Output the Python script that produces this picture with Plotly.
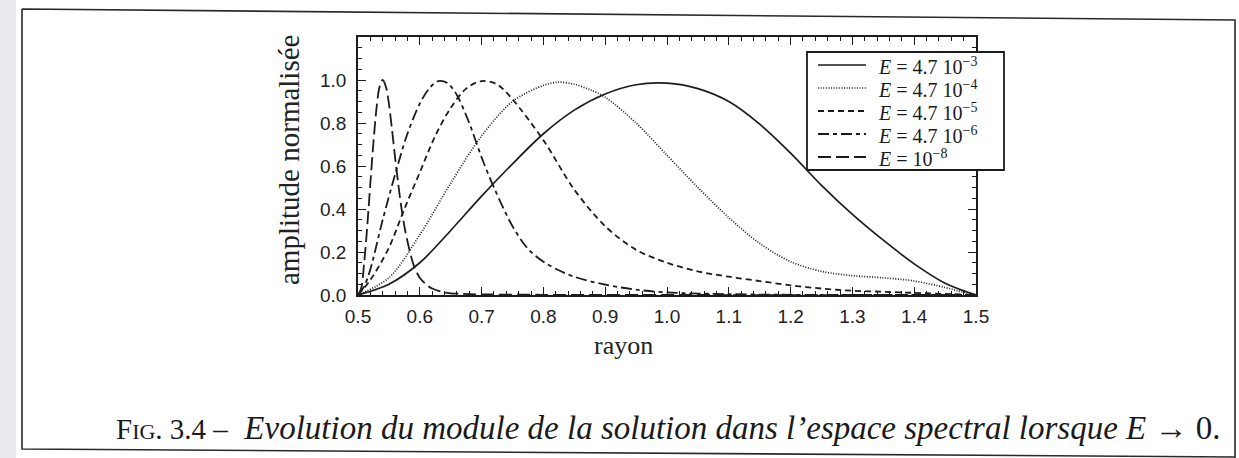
import plotly.graph_objects as go

# --- data: normalised amplitude versus radius for decreasing Ekman numbers ---
labels = [
    "<i>E</i> = 4.7 10<sup>−3</sup>",
    "<i>E</i> = 4.7 10<sup>−4</sup>",
    "<i>E</i> = 4.7 10<sup>−5</sup>",
    "<i>E</i> = 4.7 10<sup>−6</sup>",
    "<i>E</i> = 10<sup>−8</sup>",
]

r_e3 = [0.5, 0.55, 0.6, 0.65, 0.7, 0.75, 0.8, 0.85, 0.9, 0.95, 1.0, 1.05, 1.1,
        1.15, 1.2, 1.25, 1.3, 1.35, 1.4, 1.45, 1.5]
a_e3 = [0, 0.05, 0.15, 0.30, 0.46, 0.61, 0.75, 0.86, 0.935, 0.978, 0.985, 0.96, 0.90,
        0.795, 0.66, 0.51, 0.375, 0.255, 0.145, 0.055, 0]

r_e4 = [0.5, 0.55, 0.6, 0.65, 0.7, 0.75, 0.8, 0.825, 0.85, 0.875, 0.9, 0.95, 1.0,
        1.05, 1.1, 1.15, 1.2, 1.25, 1.3, 1.35, 1.4, 1.45, 1.47, 1.5]
a_e4 = [0, 0.08, 0.28, 0.52, 0.74, 0.90, 0.975, 0.99, 0.98, 0.955, 0.92, 0.80, 0.65,
        0.50, 0.36, 0.24, 0.155, 0.11, 0.09, 0.08, 0.065, 0.035, 0.02, 0]

r_e5 = [0.5, 0.52, 0.55, 0.575, 0.6, 0.625, 0.65, 0.675, 0.7, 0.725, 0.75, 0.8, 0.85,
        0.9, 0.95, 1.0, 1.05, 1.1, 1.15, 1.2, 1.25, 1.3, 1.35, 1.4, 1.45, 1.5]
a_e5 = [0, 0.07, 0.22, 0.40, 0.57, 0.74, 0.87, 0.96, 0.995, 0.98, 0.91, 0.72, 0.49,
        0.32, 0.21, 0.15, 0.11, 0.085, 0.065, 0.045, 0.03, 0.02, 0.015, 0.01, 0.005, 0]

r_e6 = [0.5, 0.51, 0.52, 0.54, 0.56, 0.58, 0.6, 0.615, 0.63, 0.645, 0.66, 0.68, 0.7,
        0.72, 0.75, 0.775, 0.8, 0.825, 0.85, 0.9, 0.95, 1.0, 1.1, 1.2, 1.3, 1.5]
a_e6 = [0, 0.04, 0.12, 0.35, 0.56, 0.75, 0.89, 0.96, 0.995, 0.985, 0.93, 0.80, 0.64,
        0.50, 0.32, 0.215, 0.155, 0.115, 0.085, 0.048, 0.025, 0.012, 0.004, 0.001, 0, 0]

r_e8 = [0.5, 0.505, 0.51, 0.515, 0.52, 0.525, 0.53, 0.535, 0.54, 0.545, 0.55, 0.555,
        0.56, 0.565, 0.57, 0.575, 0.58, 0.59, 0.6, 0.61, 0.62, 0.64, 0.67, 0.7, 0.8,
        1.0, 1.5]
a_e8 = [0, 0.03, 0.15, 0.32, 0.52, 0.71, 0.87, 0.97, 1.0, 0.97, 0.89, 0.77, 0.64, 0.52,
        0.41, 0.32, 0.25, 0.14, 0.08, 0.05, 0.03, 0.012, 0.005, 0.003, 0.001, 0, 0]

x_ticks = [0.5, 0.6, 0.7, 0.8, 0.9, 1.0, 1.1, 1.2, 1.3, 1.4, 1.5]
y_ticks = [0.0, 0.2, 0.4, 0.6, 0.8, 1.0]

series = [
    (r_e3, a_e3, "solid", 1.7),
    (r_e4, a_e4, "1px,1.6px", 1.7),
    (r_e5, a_e5, "6px,4px", 1.8),
    (r_e6, a_e6, "11px,4px,4px,4px", 1.8),
    (r_e8, a_e8, "13px,5px", 1.8),
]

INK = "#1c1c1c"
W, H = 1239, 458
L, R, T, B = 358, 976, 37, 295   # plot area in pixels


def px(x):
    return (x - L) / (R - L)


def py(y):
    return (B - y) / (B - T)


fig = go.Figure()
for (r, a, dash, w), name in zip(series, labels):
    fig.add_trace(go.Scatter(
        x=r, y=a, mode="lines", name=name, showlegend=False,
        line=dict(color=INK, width=w, dash=dash, shape="spline", smoothing=0.9),
    ))

axis_common = dict(
    showline=True, linecolor=INK, linewidth=1.8, mirror="allticks",
    ticks="inside", ticklen=8, tickwidth=1.3, tickcolor=INK,
    showgrid=False, zeroline=False,
    tickfont=dict(family="Liberation Sans, Arial", size=19, color="#222"),
)

fig.update_xaxes(range=[0.5, 1.5], tickvals=x_ticks,
                 ticktext=[f"{v:.1f}" for v in x_ticks], ticklabelstandoff=3,
                 minor=dict(ticks="inside", ticklen=4, tick0=0.5, dtick=0.02,
                            tickcolor=INK, tickwidth=1),
                 **axis_common)
fig.update_yaxes(range=[0, 1.2], tickvals=y_ticks,
                 ticktext=[f"{v:.1f}" for v in y_ticks], ticklabelstandoff=6,
                 minor=dict(ticks="inside", ticklen=4, tick0=0, dtick=0.05,
                            tickcolor=INK, tickwidth=1),
                 **axis_common)

serif = "Liberation Serif, Times New Roman, serif"

fig.add_annotation(x=px(623), y=py(345), xref="paper", yref="paper",
                   xanchor="center", yanchor="middle",
                   text="rayon", showarrow=False,
                   font=dict(family=serif, size=26, color="#222"))
fig.add_annotation(x=px(289), y=py(160), xref="paper", yref="paper",
                   xanchor="center", yanchor="middle",
                   text="amplitude normalisée", textangle=-90, showarrow=False,
                   font=dict(family=serif, size=29, color="#222"))

fig.add_annotation(
    x=px(114), y=py(428), xref="paper", yref="paper", xanchor="left", yanchor="middle",
    text=("<span style='font-size:29px'>F<span style='font-size:22px'>IG</span>. 3.4 –</span>  "
          "<i>Evolution du module de la solution dans l’espace spectral lorsque "
          "E</i> → 0."),
    showarrow=False, font=dict(family=serif, size=33, color="#1a1a1a"),
)

# legend box with one sample line and label per curve
LX0, LX1, LY0, LY1 = 807, 1004, 52, 170
fig.add_shape(type="rect", x0=px(LX0), x1=px(LX1), y0=py(LY0), y1=py(LY1),
              xref="paper", yref="paper", fillcolor="white",
              line=dict(color=INK, width=1.8), layer="above")
row_y = [65, 88, 111, 134, 157]
for (r, a, dash, w), name, yy in zip(series, labels, row_y):
    fig.add_shape(type="line", x0=px(818), x1=px(866), y0=py(yy), y1=py(yy),
                  xref="paper", yref="paper", layer="above",
                  line=dict(color=INK, width=w, dash=dash))
    fig.add_annotation(x=px(877), y=py(yy + 1), xref="paper", yref="paper",
                       xanchor="left", yanchor="middle", text=name, showarrow=False,
                       font=dict(family=serif, size=20, color="#1a1a1a"),
                       borderpad=0)

# page frame around figure and caption
frame = (f"M {px(22)},{py(9)} L {px(1235)},{py(20)} "
         f"L {px(1235)},{py(458)} M {px(22)},{py(9)} L {px(22)},{py(449)} "
         f"L {px(1235)},{py(457)}")
fig.add_shape(type="path", path=frame, xref="paper", yref="paper",
              line=dict(color="#2a2a2a", width=1.6))
# shaded binding edge
fig.add_shape(type="rect", x0=px(0), x1=px(16), y0=py(0), y1=py(458),
              xref="paper", yref="paper", line=dict(width=0),
              fillcolor="#ebebef", layer="below")

fig.update_layout(
    width=W, height=H,
    margin=dict(l=L, r=W - R, t=T, b=H - B),
    paper_bgcolor="white", plot_bgcolor="white",
    showlegend=False,
)

fig.write_html("out.html")
